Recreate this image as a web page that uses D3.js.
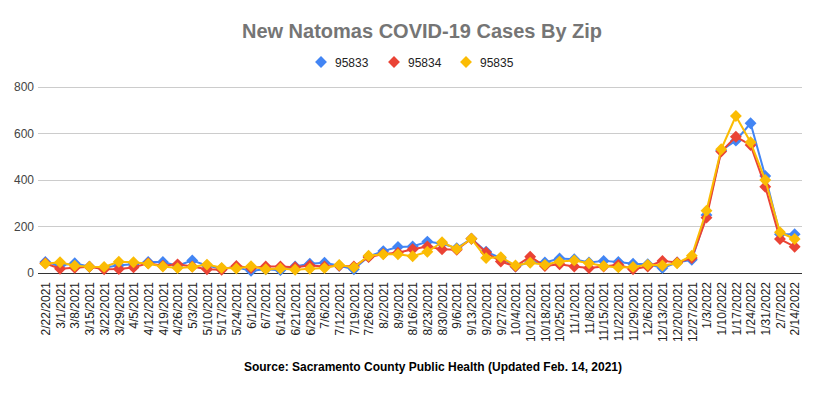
<!DOCTYPE html>
<html><head><meta charset="utf-8">
<script src="https://cdn.jsdelivr.net/npm/d3@7"></script>
<style>body{margin:0;background:#fff;} svg{display:block;font-family:"Liberation Sans",Arial,sans-serif;}</style>
</head><body>
<script>
const dates = ["2/22/2021","3/1/2021","3/8/2021","3/15/2021","3/22/2021","3/29/2021","4/5/2021","4/12/2021","4/19/2021","4/26/2021","5/3/2021","5/10/2021","5/17/2021","5/24/2021","6/1/2021","6/7/2021","6/14/2021","6/21/2021","6/28/2021","7/6/2021","7/12/2021","7/19/2021","7/26/2021","8/2/2021","8/9/2021","8/16/2021","8/23/2021","8/30/2021","9/6/2021","9/13/2021","9/20/2021","9/27/2021","10/4/2021","10/12/2021","10/18/2021","10/25/2021","11/1/2021","11/8/2021","11/15/2021","11/22/2021","11/29/2021","12/6/2021","12/13/2021","12/20/2021","12/27/2021","1/3/2022","1/10/2022","1/17/2022","1/24/2022","1/31/2022","2/7/2022","2/14/2022"];
const zip95833 = [45,30,40,25,20,31,36,45,45,29,52,29,17,22,7,14,10,26,38,42,29,14,69,92,110,112,133,124,105,145,90,62,26,45,43,60,57,43,50,45,38,36,19,43,55,247,525,567,642,415,165,165];
const zip95834 = [40,16,20,25,14,15,22,40,29,35,26,14,12,28,19,26,26,23,30,26,29,26,66,80,85,100,112,100,98,145,86,47,26,68,28,35,26,19,26,33,14,26,50,43,62,236,520,584,548,369,144,111];
const zip95835 = [38,44,29,25,24,46,44,38,26,19,24,34,20,17,27,14,17,12,16,19,32,22,72,78,78,70,89,130,101,145,62,66,30,42,33,47,52,40,28,22,24,33,30,40,72,266,530,673,560,398,173,144];
const seriesNames = ["95833","95834","95835"];
const seriesColors = ["#4285F4","#EA4335","#FBBC04"];
const yTicks = [0,200,400,600,800];

const W = 823, H = 395;
const svg = d3.select("body").append("svg").attr("width", W).attr("height", H);

const x = d3.scalePoint().domain(dates).range([38, 802]).padding(0.5);
const y = d3.scaleLinear().domain([0, 800]).range([272.5, 86.5]);

// title
svg.append("text").attr("x", 422).attr("y", 38).attr("text-anchor", "middle")
  .attr("font-size", 20).attr("font-weight", "bold").attr("fill", "#757575")
  .text("New Natomas COVID-19 Cases By Zip");

// legend
const legendX = [321, 394, 466];
const diamond = d3.symbol().type(d3.symbolDiamond2).size(90);
seriesNames.forEach((n, i) => {
  const g = svg.append("g").attr("transform", `translate(${legendX[i]},62)`);
  g.append("path").attr("d", diamond()).attr("fill", seriesColors[i]);
  g.append("text").attr("x", 14).attr("y", 4.5).attr("font-size", 12).attr("fill", "#222").text(n);
});

// grid + y axis labels
const grid = svg.append("g");
yTicks.forEach(t => {
  grid.append("line").attr("x1", 38).attr("x2", 802).attr("y1", Math.round(y(t)) + 0.5).attr("y2", Math.round(y(t)) + 0.5)
    .attr("stroke", t === 0 ? "#333" : "#ccc").attr("stroke-width", 1);
  grid.append("text").attr("x", 34).attr("y", y(t) + 4.5).attr("text-anchor", "end")
    .attr("font-size", 12).attr("fill", "#444").text(t);
});

// x axis labels
const xAxis = d3.axisBottom(x).tickSize(0).tickPadding(0);
const xg = svg.append("g").attr("transform", "translate(0,282)").call(xAxis);
xg.select(".domain").remove();
xg.selectAll("text").attr("font-size", 12).attr("fill", "#222").attr("font-family", "Liberation Sans, Arial, sans-serif")
  .attr("text-anchor", "end").attr("transform", "rotate(-90)").attr("x", 0).attr("y", 0).attr("dy", "0.35em");

// series
const allSeries = [zip95833, zip95834, zip95835];
const line = d3.line().x((d, i) => x(dates[i])).y(d => y(d));
allSeries.forEach((vals, si) => {
  const g = svg.append("g");
  g.append("path").datum(vals).attr("d", line).attr("fill", "none")
    .attr("stroke", seriesColors[si]).attr("stroke-width", 2).attr("stroke-linejoin", "round");
  g.selectAll("path.m").data(vals).enter().append("path").attr("class", "m")
    .attr("transform", (d, i) => `translate(${x(dates[i])},${y(d)})`)
    .attr("d", diamond()).attr("fill", seriesColors[si]);
});

// source
svg.append("text").attr("x", 433).attr("y", 371).attr("text-anchor", "middle")
  .attr("font-size", 12).attr("font-weight", "bold").attr("fill", "#000")
  .text("Source: Sacramento County Public Health (Updated Feb. 14, 2021)");
</script>
</body></html>
